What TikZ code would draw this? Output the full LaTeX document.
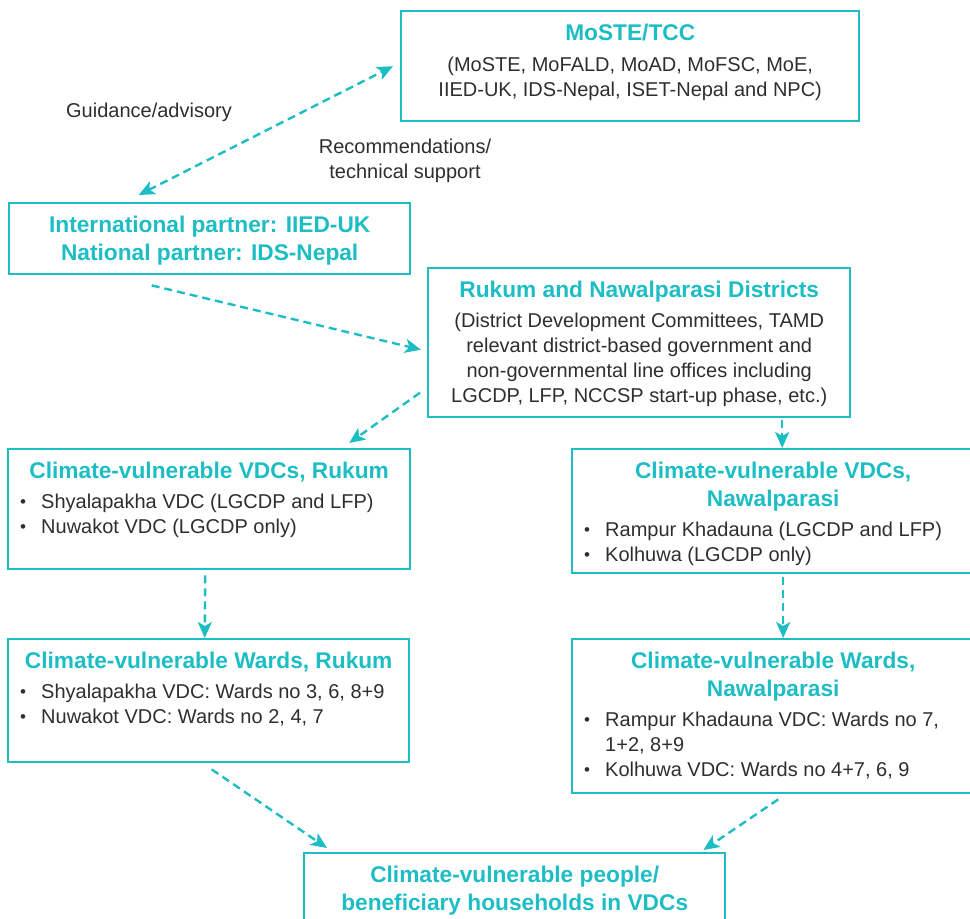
\documentclass[tikz,border=0pt]{standalone}
\usepackage{fontspec}
\setmainfont{Liberation Sans}
\usetikzlibrary{arrows.meta}
\definecolor{sea}{HTML}{1DBDC4}
\definecolor{ink}{HTML}{2E2E2E}
\newcommand\headfont{\fontsize{22.7}{28}\selectfont\bfseries\color{sea}}
\newcommand\bodyfont{\fontsize{20}{25}\selectfont}
\newcommand\firstline{\rule{0pt}{29pt}}
\newcommand\bul[1]{\par\hangindent=21pt\hangafter=1\noindent\makebox[21pt][l]{\raisebox{0.5pt}{\fontsize{17}{17}\selectfont\textbullet}}#1}
\newcommand\boxbody[3]{\parbox[t][#2][t]{#1}{#3}}

\begin{document}
\begin{tikzpicture}[x=1pt, y=-1pt,
  panel/.style={draw=sea, line width=2.4pt, inner sep=0pt, anchor=north west, text=ink},
  note/.style={font=\bodyfont, text=ink, align=center, inner sep=0pt},
  >={Stealth[length=16pt,width=14pt,inset=4pt]},
  link/.style={draw=sea, line width=2.4pt, dash pattern=on 8pt off 5pt, ->}]
\useasboundingbox (0,0) rectangle (970,919);
\clip (0,0) rectangle (970,919);

\node[panel] (moste) at (400,10) {\boxbody{458pt}{110pt}{%
  {\headfont\centering\firstline MoSTE/TCC\par}
  {\bodyfont\centering\vspace{6pt}(MoSTE, MoFALD, MoAD, MoFSC, MoE,\\ IIED-UK, IDS-Nepal, ISET-Nepal and NPC)\par}}};
\node[panel] (intl) at (8,202) {\boxbody{401pt}{71pt}{%
  {\headfont\centering\firstline International partner: IIED-UK\\ National partner: IDS-Nepal\par}}};
\node[panel] (dist) at (427,267) {\boxbody{422pt}{149pt}{%
  {\headfont\centering\firstline Rukum and Nawalparasi Districts\par}
  {\bodyfont\centering\vspace{5pt}(District Development Committees, TAMD\\ relevant district-based government and\\ non-governmental line offices including\\ LGCDP, LFP, NCCSP start-up phase, etc.)\par}}};
\node[panel] (vdcR) at (7,448) {\boxbody{402pt}{120pt}{%
  {\headfont\centering\firstline Climate-vulnerable VDCs, Rukum\par}
  {\bodyfont\raggedright\leftskip=12pt\vspace{5pt}
   \bul{Shyalapakha VDC (LGCDP and LFP)}
   \bul{Nuwakot VDC (LGCDP only)}\par}}};
\node[panel] (vdcN) at (571,448) {\boxbody{402pt}{124pt}{%
  {\headfont\centering\firstline Climate-vulnerable VDCs,\\ Nawalparasi\par}
  {\bodyfont\raggedright\leftskip=12pt\vspace{5pt}
   \bul{Rampur Khadauna (LGCDP and LFP)}
   \bul{Kolhuwa (LGCDP only)}\par}}};
\node[panel] (wardR) at (7,638) {\boxbody{401pt}{123pt}{%
  {\headfont\centering\firstline Climate-vulnerable Wards, Rukum\par}
  {\bodyfont\raggedright\leftskip=12pt\vspace{5pt}
   \bul{Shyalapakha VDC: Wards no 3, 6, 8+9}
   \bul{Nuwakot VDC: Wards no 2, 4, 7}\par}}};
\node[panel] (wardN) at (571,638) {\boxbody{402pt}{154pt}{%
  {\headfont\centering\firstline Climate-vulnerable Wards,\\ Nawalparasi\par}
  {\bodyfont\raggedright\leftskip=12pt\vspace{5pt}
   \bul{Rampur Khadauna VDC: Wards no 7,\newline 1+2, 8+9}
   \bul{Kolhuwa VDC: Wards no 4+7, 6, 9}\par}}};
\node[panel] (bot) at (303,852) {\boxbody{421pt}{100pt}{%
  {\headfont\centering\firstline Climate-vulnerable people/\\ beneficiary households in VDCs\par}}};

\node[note] (guide) at (149,112) {Guidance/advisory};
\node[note] (recom) at (405,161) {Recommendations/\\ technical support};

\draw[link, <->] ([xshift=-71pt,yshift=7pt]intl.north) -- ([xshift=-7pt]moste.west);
\draw[link] ([xshift=-58pt,yshift=-10pt]intl.south) -- ([xshift=-6pt,yshift=-7pt]dist.west);
\draw[link] ([xshift=-7pt,yshift=-50pt]dist.west) -- ([xshift=140pt,yshift=5pt]vdcR.north);
\draw[link] ([xshift=9pt,yshift=-2pt]vdcN.north |- dist.south) -- ([xshift=9pt]vdcN.north);
\draw[link] ([xshift=-4pt,yshift=-5pt]vdcR.south) -- ([xshift=-4pt]wardR.north);
\draw[link] ([xshift=10pt,yshift=-3pt]vdcN.south) -- ([xshift=10pt]wardN.north);
\draw[link] ([xshift=3pt,yshift=-6pt]wardR.south) -- ([xshift=24pt,yshift=4pt]bot.north west);
\draw[link] ([xshift=5pt,yshift=-5pt]wardN.south) -- ([xshift=-23pt,yshift=2pt]bot.north east);
\end{tikzpicture}
\end{document}
